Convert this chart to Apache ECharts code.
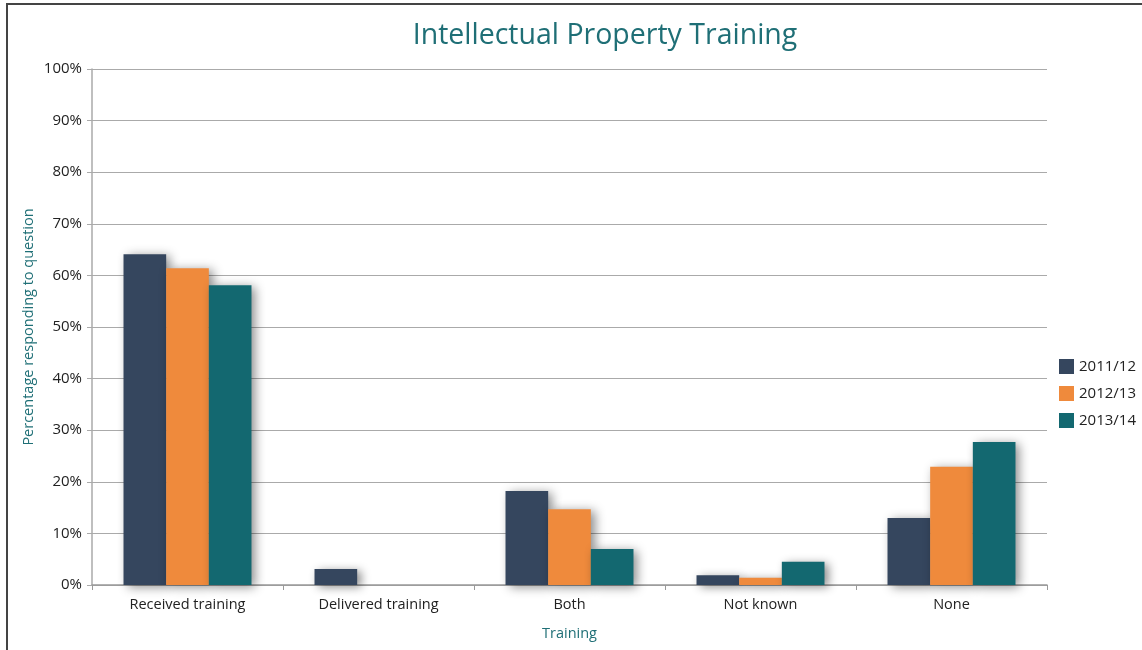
<!DOCTYPE html>
<html>
<head>
<meta charset="utf-8">
<script src="https://cdn.jsdelivr.net/npm/echarts@6/dist/echarts.min.js"></script>
<style>
  html, body { margin: 0; padding: 0; background: #fff; }
  #chart { width: 1142px; height: 650px; }
</style>
</head>
<body>
<div id="chart"></div>
<script>
// data
var categories = ['Received training', 'Delivered training', 'Both', 'Not known', 'None'];
var years = ['2011/12', '2012/13', '2013/14'];
var values2011 = [64.1, 3.1, 18.2, 1.9, 13.0];
var values2012 = [61.4, 0, 14.7, 1.4, 22.9];
var values2013 = [58.1, 0, 7.0, 4.5, 27.7];
var yTicks = [0, 10, 20, 30, 40, 50, 60, 70, 80, 90, 100];

var colors = ['#35465e', '#ef8a3c', '#136870'];
var teal = '#1f6f76';
var font = '"Open Sans", "Noto Sans", sans-serif';

var barShadow = {
    shadowBlur: 10,
    shadowColor: 'rgba(0,0,0,0.45)',
    shadowOffsetX: 4,
    shadowOffsetY: 2
};

function makeSeries(name, data, color) {
    return {
        name: name,
        type: 'bar',
        data: data,
        barGap: '0%',
        barCategoryGap: '33%',
        itemStyle: Object.assign({ color: color }, barShadow)
    };
}

var myChart = echarts.init(document.getElementById('chart'));
myChart.setOption({
    textStyle: { fontFamily: font },
    title: {
        text: 'Intellectual Property Training',
        left: 600,
        textAlign: 'center',
        top: 16,
        textStyle: { color: teal, fontSize: 28.5, fontWeight: 'normal', fontFamily: font }
    },
    legend: {
        data: years,
        orient: 'vertical',
        left: 1054,
        top: 354,
        itemWidth: 15,
        itemHeight: 15,
        itemGap: 12,
        icon: 'rect',
        textStyle: { fontSize: 15, color: '#222', fontFamily: font }
    },
    grid: { left: 92, right: 95, top: 69, bottom: 65 },
    xAxis: {
        type: 'category',
        data: categories,
        name: 'Training',
        nameLocation: 'middle',
        nameGap: 41,
        nameTextStyle: { color: teal, fontSize: 14.5, fontFamily: font },
        axisLine: { lineStyle: { color: '#999', width: 1.5 } },
        axisTick: { show: true, length: 5, lineStyle: { color: '#999' } },
        axisLabel: { color: '#222', fontSize: 14.5, margin: 12, fontFamily: font }
    },
    yAxis: {
        type: 'value',
        min: 0,
        max: 100,
        interval: 10,
        name: 'Percentage responding to question',
        nameLocation: 'middle',
        nameGap: 56,
        nameMoveOverlap: false,
        nameTextStyle: { color: teal, fontSize: 14.5, fontFamily: font },
        axisLine: { show: true, lineStyle: { color: '#aaa', width: 1.5 } },
        axisTick: { show: true, length: 5, lineStyle: { color: '#aaa' } },
        axisLabel: {
            color: '#222', fontSize: 15, margin: 10, fontFamily: font,
            formatter: function (v) { return yTicks.indexOf(v) >= 0 ? v + '%' : ''; }
        },
        splitLine: { lineStyle: { color: '#aaa', width: 1.2 } }
    },
    series: [
        makeSeries(years[0], values2011, colors[0]),
        makeSeries(years[1], values2012, colors[1]),
        makeSeries(years[2], values2013, colors[2])
    ],
    graphic: [
        { type: 'line', shape: { x1: 7, y1: 4, x2: 7, y2: 650 }, style: { stroke: '#444', lineWidth: 2 } },
        { type: 'line', shape: { x1: 6, y1: 4, x2: 1142, y2: 4 }, style: { stroke: '#444', lineWidth: 2 } }
    ]
});
</script>
</body>
</html>
